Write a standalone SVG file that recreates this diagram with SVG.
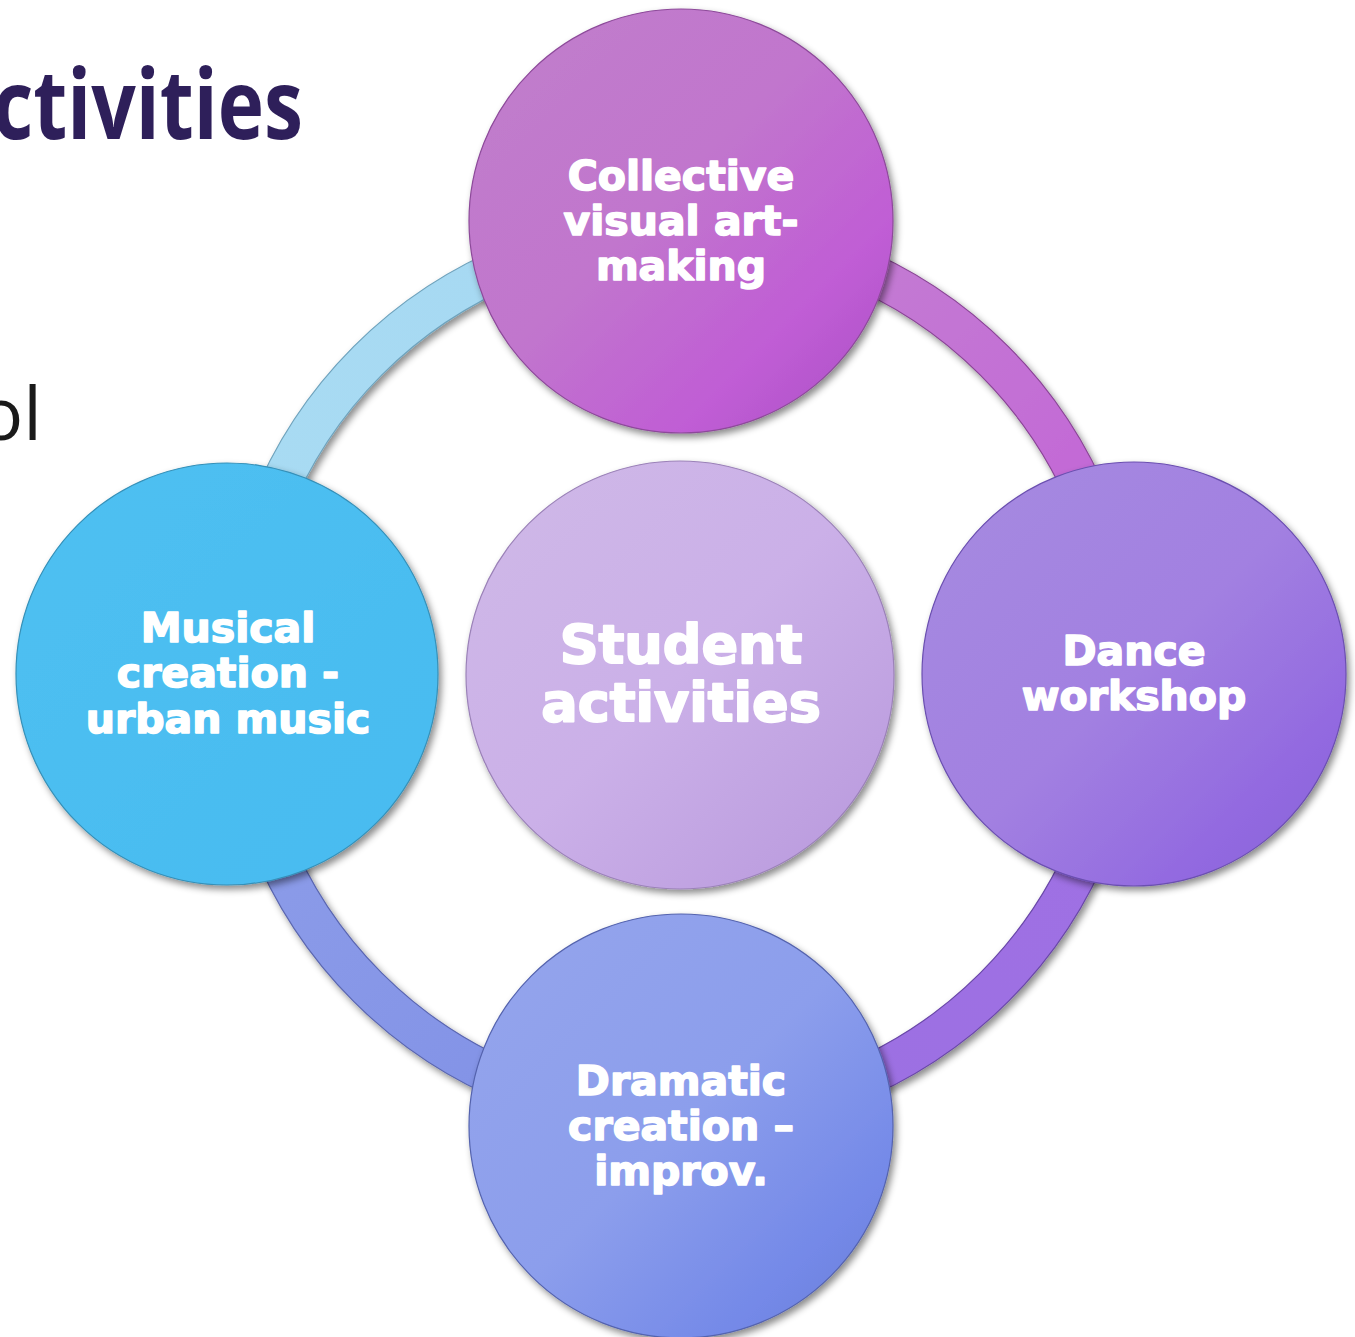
<svg xmlns="http://www.w3.org/2000/svg" width="1355" height="1337" viewBox="0 0 1355 1337">
  <style>
    .lbl { font-family: "DejaVu Sans", "Liberation Sans", sans-serif; font-weight: bold; fill: #ffffff; stroke: #ffffff; stroke-width: 1.6px; stroke-linejoin: round; text-anchor: middle; font-size: 41px; }
    .big { font-size: 54px; stroke-width: 2px; }
    .title { font-family: "Open Sans", "Noto Sans", sans-serif; font-weight: bold; fill: #2e1f5a; font-size: 96px; }
    .body { font-family: "Open Sans", "Noto Sans", sans-serif; fill: #1a1a1a; font-size: 74px; }
    .arc { stroke-width: 1.2; }
    .node { stroke-width: 1.2; }
  </style>
  <defs>
    <filter id="sh" x="-10%" y="-10%" width="125%" height="125%">
      <feDropShadow dx="3" dy="4" stdDeviation="3.5" flood-color="#000" flood-opacity="0.45"/>
    </filter>
    <linearGradient id="gTop" x1="0" y1="0" x2="1" y2="1">
      <stop offset="0" stop-color="#c07ecb"/>
      <stop offset="0.45" stop-color="#c176cd"/>
      <stop offset="0.75" stop-color="#c05dd5"/>
      <stop offset="1" stop-color="#a94fc4"/>
    </linearGradient>
    <linearGradient id="gLeft" x1="0" y1="0" x2="1" y2="1">
      <stop offset="0" stop-color="#4fc0f1"/>
      <stop offset="1" stop-color="#47bbf0"/>
    </linearGradient>
    <linearGradient id="gCenter" x1="0" y1="0" x2="1" y2="1">
      <stop offset="0" stop-color="#cfb9e7"/>
      <stop offset="0.5" stop-color="#cbb0e8"/>
      <stop offset="1" stop-color="#b797dc"/>
    </linearGradient>
    <linearGradient id="gRight" x1="0" y1="0" x2="1" y2="1">
      <stop offset="0" stop-color="#a68be0"/>
      <stop offset="0.5" stop-color="#a280e1"/>
      <stop offset="0.8" stop-color="#9269e0"/>
      <stop offset="1" stop-color="#8660d6"/>
    </linearGradient>
    <linearGradient id="gBottom" x1="0" y1="0" x2="1" y2="1">
      <stop offset="0" stop-color="#95a5ec"/>
      <stop offset="0.5" stop-color="#8c9eec"/>
      <stop offset="0.8" stop-color="#7489e8"/>
      <stop offset="1" stop-color="#6a7dd6"/>
    </linearGradient>
    <linearGradient id="gArcUL" x1="0" y1="1" x2="1" y2="0">
      <stop offset="0" stop-color="#a9dcf3"/>
      <stop offset="1" stop-color="#a6d8f2"/>
    </linearGradient>
    <linearGradient id="gArcUR" x1="0" y1="0" x2="1" y2="1">
      <stop offset="0" stop-color="#c384d1"/>
      <stop offset="1" stop-color="#c35fd8"/>
    </linearGradient>
    <linearGradient id="gArcLR" x1="1" y1="0" x2="0" y2="1">
      <stop offset="0" stop-color="#a071e4"/>
      <stop offset="1" stop-color="#9b6fe2"/>
    </linearGradient>
    <linearGradient id="gArcLL" x1="0" y1="0" x2="1" y2="1">
      <stop offset="0" stop-color="#8f9fe9"/>
      <stop offset="1" stop-color="#7f8fe6"/>
    </linearGradient>
  </defs>

  <rect width="1355" height="1337" fill="#ffffff"/>

  <text class="title" x="303" y="139" text-anchor="end" textLength="310" lengthAdjust="spacingAndGlyphs">ctivities</text>
  <text class="body" x="42" y="440" text-anchor="end">ol</text>

  <g id="connectors">
    <path class="arc" filter="url(#sh)" fill="url(#gArcUL)" stroke="#6fa3bd" d="M 218 674 A 463 463 0 0 1 681 211 L 681 251 A 423 423 0 0 0 258 674 Z"/>
    <path class="arc" filter="url(#sh)" fill="url(#gArcUR)" stroke="#8a4596" d="M 681 211 A 463 463 0 0 1 1144 674 L 1104 674 A 423 423 0 0 0 681 251 Z"/>
    <path class="arc" filter="url(#sh)" fill="url(#gArcLR)" stroke="#6a48a8" d="M 1144 674 A 463 463 0 0 1 681 1137 L 681 1097 A 423 423 0 0 0 1104 674 Z"/>
    <path class="arc" filter="url(#sh)" fill="url(#gArcLL)" stroke="#5a66b0" d="M 681 1137 A 463 463 0 0 1 218 674 L 258 674 A 423 423 0 0 0 681 1097 Z"/>
  </g>

  <g id="node-center">
    <circle class="node" filter="url(#sh)" cx="680" cy="675" r="214" fill="url(#gCenter)" stroke="#9b82b8"/>
    <text class="lbl big" x="681" y="663">Student</text>
    <text class="lbl big" x="681" y="721">activities</text>
  </g>

  <g id="node-top">
    <circle class="node" filter="url(#sh)" cx="681" cy="221" r="212" fill="url(#gTop)" stroke="#8d4a9a"/>
    <text class="lbl" x="681" y="190">Collective</text>
    <text class="lbl" x="681" y="235">visual art-</text>
    <text class="lbl" x="681" y="280">making</text>
  </g>

  <g id="node-left">
    <circle class="node" filter="url(#sh)" cx="227" cy="674" r="211" fill="url(#gLeft)" stroke="#3590b8"/>
    <text class="lbl" x="228" y="642">Musical</text>
    <text class="lbl" x="228" y="687">creation -</text>
    <text class="lbl" x="228" y="733">urban music</text>
  </g>

  <g id="node-right">
    <circle class="node" filter="url(#sh)" cx="1134" cy="674" r="212" fill="url(#gRight)" stroke="#6b4fb0"/>
    <text class="lbl" x="1134" y="665">Dance</text>
    <text class="lbl" x="1134" y="710">workshop</text>
  </g>

  <g id="node-bottom">
    <circle class="node" filter="url(#sh)" cx="681" cy="1126" r="212" fill="url(#gBottom)" stroke="#5463ae"/>
    <text class="lbl" x="681" y="1095">Dramatic</text>
    <text class="lbl" x="681" y="1140">creation –</text>
    <text class="lbl" x="681" y="1185">improv.</text>
  </g>
</svg>
